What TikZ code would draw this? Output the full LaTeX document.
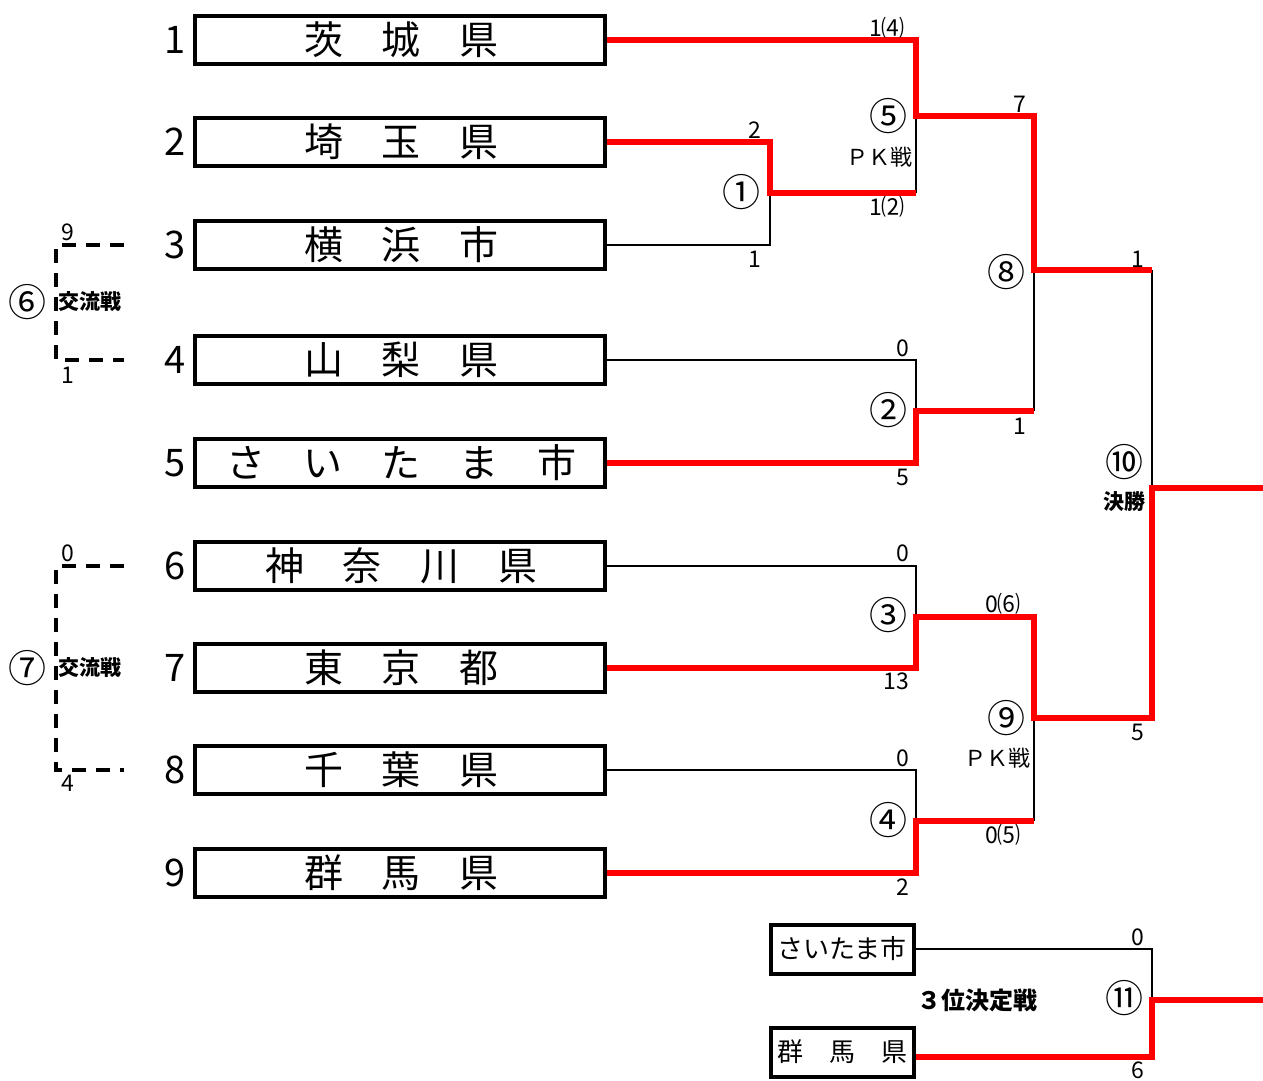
\documentclass[tikz,border=0pt]{standalone}
\usepackage{fontspec}
\setmainfont{Noto Sans CJK JP}
\usepackage{tikz}
\usetikzlibrary{positioning,calc}

\tikzset{
  team/.style={draw, line width=4pt, minimum width=410pt, minimum height=48pt, inner sep=0pt, font=\fontsize{39}{39}\selectfont},
  small/.style={draw, line width=4pt, minimum width=143pt, minimum height=49pt, inner sep=0pt, font=\fontsize{26}{26}\selectfont},
  num/.style={inner sep=0pt, font=\fontsize{38}{38}\selectfont},
  circ/.style={inner sep=0pt, font=\fontsize{38}{38}\selectfont},
  score/.style={inner sep=0pt, font=\fontsize{23}{23}\selectfont},
  note/.style={inner sep=0pt, font=\fontsize{22}{22}\selectfont},
  bnote/.style={inner sep=0pt, font=\fontsize{21}{21}\selectfont\bfseries},
  win/.style={red, line width=6pt},
  lose/.style={black, line width=2pt},
  xchg/.style={black, line width=4pt, dash pattern=on 14pt off 10pt}
}

\begin{document}
\begin{tikzpicture}[x=1pt, y=-1pt]
    \useasboundingbox (0,0) rectangle (1263,1081);

    % teams
    \foreach \i/\y/\name in {1/40/{茨\quad 城\quad 県}, 2/142/{埼\quad 玉\quad 県},
        3/245/{横\quad 浜\quad 市}, 4/360/{山\quad 梨\quad 県},
        5/463/{さ\quad い\quad た\quad ま\quad 市}, 6/566/{神\quad 奈\quad 川\quad 県},
        7/668/{東\quad 京\quad 都}, 8/770/{千\quad 葉\quad 県}, 9/873/{群\quad 馬\quad 県}} {
        \node[num] (n\i) at (175,\y) {\i};
        \node[team] (t\i) at (400,\y) {\hspace{3pt}\name};
    }
    \node[small] (s1) at (842,949) {さいたま市};
    \node[small] (s2) at (842,1052) {群\hspace{1em}馬\hspace{1em}県};

    % match points
    \coordinate (m1) at (770,193);
    \coordinate (m5) at (916,116);
    \coordinate (m2) at (916,411);
    \coordinate (m8) at (1034,270);
    \coordinate (m3) at (916,617);
    \coordinate (m4) at (916,821);
    \coordinate (m9) at (1034,718);
    \coordinate (m10) at (1152,488);
    \coordinate (m11) at (1152,1000);
    \coordinate (champ) at (1263,488);
    \coordinate (third) at (1263,1000);

    % losers
    \draw[lose] (t3.east) -| (m1);
    \draw[lose] (m1 -| m5) -- (m5);
    \draw[lose] (t4.east) -| (m2);
    \draw[lose] (m2 -| m8) -- (m8);
    \draw[lose] (m8 -| m10) -- (m10);
    \draw[lose] (t6.east) -| (m3);
    \draw[lose] (t8.east) -| (m4);
    \draw[lose] (m4 -| m9) -- (m9);
    \draw[lose] (s1.east) -| (m11);

    % winners
    \draw[win] (t2.east) -| (m1) -- (m1 -| m5);
    \draw[win] (t1.east) -| (m5) -| (m8) -- (m8 -| m10);
    \draw[win] (t5.east) -| (m2) -- (m2 -| m8);
    \draw[win] (t9.east) -| (m4) -- (m4 -| m9);
    \draw[win] (t7.east) -| (m3) -| (m9) -| (m10) -- (champ);
    \draw[win] ([yshift=-5pt]s2.east) -| (m11) -- (third);

    % match numbers
    \node[circ] (c1) at (741,192) {①};
    \node[circ] (c2) at (888,410) {②};
    \node[circ] (c3) at (888,615) {③};
    \node[circ] (c4) at (888,820) {④};
    \node[circ] (c5) at (888,116) {⑤};
    \node[circ] (c6) at (28,302) {⑥};
    \node[circ] (c7) at (28,668) {⑦};
    \node[circ] (c8) at (1006,272) {⑧};
    \node[circ] (c9) at (1006,718) {⑨};
    \node[circ] (c10) at (1124,462) {⑩};
    \node[circ] (c11) at (1124,998) {⑪};

    % scores
    \node[score] at (887,28) {1⑷};
    \node[score] at (887,207) {1⑵};
    \node[score] at (1020,104) {7};
    \node[score] at (755,130) {2};
    \node[score] at (755,259) {1};
    \node[score] at (903,348) {0};
    \node[score] at (903,477) {5};
    \node[score] at (1020,426) {1};
    \node[score] at (1138,259) {1};
    \node[score] at (903,553) {0};
    \node[score] at (896,681) {13};
    \node[score] at (1003,604) {0⑹};
    \node[score] at (1003,835) {0⑸};
    \node[score] at (903,758) {0};
    \node[score] at (903,887) {2};
    \node[score] at (1138,732) {5};
    \node[score] at (1138,937) {0};
    \node[score] at (1138,1070) {6};
    \node[note] at (879,157) {ＰＫ戦};
    \node[note] at (997,758) {ＰＫ戦};
    \node[bnote] at (1124,502) {決勝};
    \node[bnote, font=\fontsize{24}{24}\selectfont\bfseries] at (977,1000) {３位決定戦};

    % exchange games
    \coordinate (x3) at (124,245);
    \coordinate (x4) at (124,360);
    \coordinate (x6) at (124,566);
    \coordinate (x8) at (124,770);
    \draw[xchg] (x3) -- (56,245) -- (56,360) -- (x4);
    \draw[xchg] (x6) -- (56,566) -- (56,770) -- (x8);
    \node[bnote] at (90,302) {交流戦};
    \node[bnote] at (90,668) {交流戦};
    \node[score] at (68,232) {9};
    \node[score] at (68,375) {1};
    \node[score] at (68,553) {0};
    \node[score] at (68,783) {4};
\end{tikzpicture}
\end{document}
